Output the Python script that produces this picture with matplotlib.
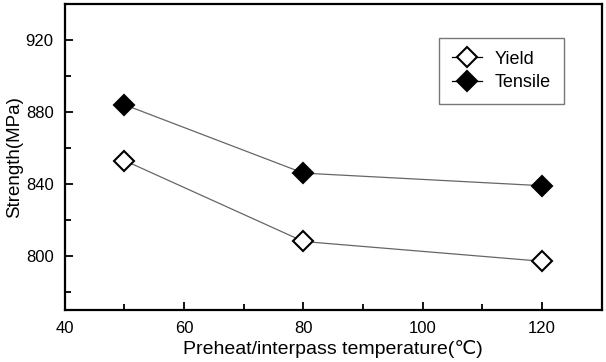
import matplotlib
matplotlib.use("Agg")
import matplotlib.pyplot as plt
from matplotlib.ticker import MultipleLocator

plt.rcParams['font.family'] = ['Liberation Sans', 'DejaVu Sans']

temps = [50, 80, 120]
yield_strength = [853, 808, 797]
tensile_strength = [884, 846, 839]

fig = plt.figure(figsize=(6.06, 3.62), dpi=100)
ax = fig.add_axes([0.107, 0.144, 0.886, 0.845])

ax.plot(temps, yield_strength, color='#666666', lw=0.9, marker='D', ms=10,
        mfc='white', mec='black', mew=1.5, label='Yield')
ax.plot(temps, tensile_strength, color='#666666', lw=0.9, marker='D', ms=10,
        mfc='black', mec='black', mew=1.5, label='Tensile')

ax.set_xlim(40, 130)
ax.set_ylim(770, 940)
ax.xaxis.set_major_locator(MultipleLocator(20))
ax.xaxis.set_minor_locator(MultipleLocator(10))
ax.yaxis.set_minor_locator(MultipleLocator(20))
ax.set_yticks([800, 840, 880, 920])
ax.tick_params(which='major', direction='in', length=6, width=1.3, labelsize=12, pad=8)
ax.tick_params(which='minor', direction='in', length=4, width=1.3)
for s in ax.spines.values():
    s.set_linewidth(1.6)

ax.set_xlabel('Preheat/interpass temperature(\u2103)', fontsize=14, labelpad=3)
ax.set_ylabel('Strength(MPa)', fontsize=13.5)
ax.yaxis.set_label_coords(-0.078, 0.5)

leg = ax.legend(loc='upper left', bbox_to_anchor=(0.697, 0.889), fontsize=13,
                frameon=True, fancybox=False, edgecolor='#555555',
                handlelength=1.7, handletextpad=0.7, borderpad=0.7,
                labelspacing=0.35, borderaxespad=0)
leg.get_frame().set_linewidth(1.0)
for h in leg.legend_handles:
    h.set_color('black')

fig.savefig('out.png', dpi=100)
